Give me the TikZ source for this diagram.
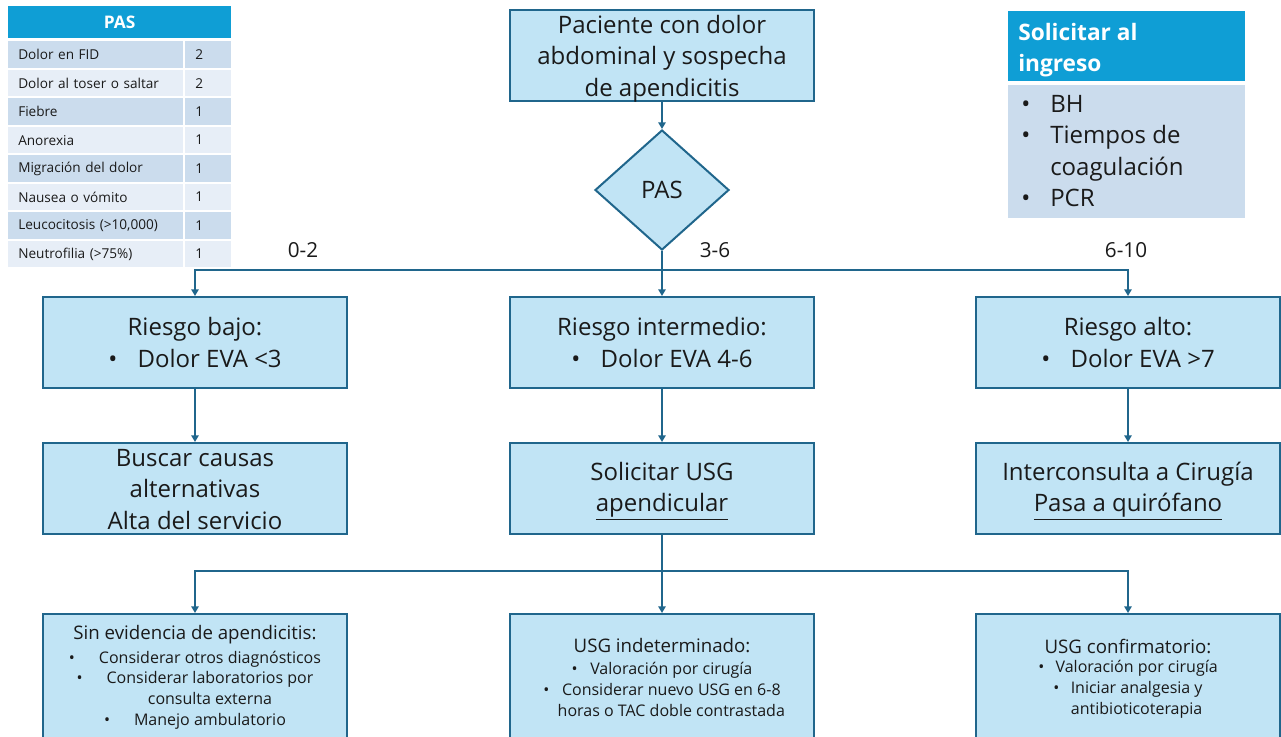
\documentclass[tikz,border=0pt]{standalone}
\usepackage{fontspec}
\setmainfont{Open Sans}
\usetikzlibrary{arrows.meta,shapes.geometric}
\definecolor{boxfill}{HTML}{C1E4F5}
\definecolor{edge}{HTML}{20668C}
\definecolor{hdr}{HTML}{0F9ED5}
\definecolor{rowA}{HTML}{CBDCED}
\definecolor{rowB}{HTML}{E7EEF7}
\definecolor{txt}{HTML}{1A1A1A}
\newcommand\fntMain{\fontsize{18}{23.5}\selectfont}
\newcommand\fntLbl{\fontsize{15.5}{19}\selectfont}
\newcommand\fntTab{\fontsize{10.2}{12}\selectfont}
\newcommand\fntTitle{\fontsize{14}{17}\selectfont}
\newcommand\fntItem{\fontsize{12}{15.6}\selectfont}
\tikzset{
  box/.style={draw=edge, line width=1.5pt, fill=boxfill, minimum width=228pt,
    minimum height=68.25pt, inner sep=0pt, align=center, font=\fntMain, text=txt},
  boxtext/.style={inner sep=0pt, align=center, font=\fntMain, text=txt},
  lowbox/.style={draw=edge, line width=1.5pt, fill=boxfill, minimum width=228pt,
    minimum height=112pt, inner sep=0pt, anchor=north},
  dia/.style={draw=edge, line width=1.5pt, fill=boxfill, diamond, aspect=1.117,
    minimum width=100.5pt, minimum height=90pt, inner sep=0pt, font=\fntMain, text=txt},
  conn/.style={draw=edge, line width=1.4pt, -{Triangle[length=5pt,width=5.5pt]}},
  plain/.style={draw=edge, line width=1.4pt},
  lbl/.style={font=\fntLbl, text=txt, inner sep=0pt},
  cellL/.style={anchor=north west, minimum width=131pt, minimum height=20pt,
    inner xsep=7.5pt, inner ysep=0pt, text width=116pt, align=left, font=\fntTab, text=txt},
  cellR/.style={anchor=north west, minimum width=34.5pt, minimum height=20pt,
    inner xsep=7.5pt, inner ysep=0pt, text width=19.5pt, align=left, font=\fntTab, text=txt},
  ttl/.style={font=\fntTitle, text=txt, inner sep=0pt, align=center},
  items/.style={font=\fntItem, text=txt, inner sep=0pt, align=center},
}
\begin{document}
\begin{tikzpicture}[x=0.75pt,y=-0.75pt]
\clip (0,0) rectangle (1281,736);
\fill[white] (0,0) rectangle (1281,736);

% PAS table
\node[fill=hdr, anchor=north west, minimum width=167pt, minimum height=24pt,
  inner sep=0pt, text=white, font=\fontsize{13}{15}\selectfont\bfseries] (tabhead) at (8,6) {PAS};
\node[cellL, fill=rowA] (c1) at (8,41) {Dolor en FID};
\node[cellR, fill=rowA] (v1) at (185,41) {2};
\node[cellL, fill=rowB] (c2) at (8,69.5) {Dolor al toser o saltar};
\node[cellR, fill=rowB] (v2) at (185,69.5) {2};
\node[cellL, fill=rowA] (c3) at (8,98) {Fiebre};
\node[cellR, fill=rowA] (v3) at (185,98) {1};
\node[cellL, fill=rowB] (c4) at (8,126.5) {Anorexia};
\node[cellR, fill=rowB] (v4) at (185,126.5) {1};
\node[cellL, fill=rowA] (c5) at (8,155) {Migración del dolor};
\node[cellR, fill=rowA] (v5) at (185,155) {1};
\node[cellL, fill=rowB] (c6) at (8,183.5) {Nausea o vómito};
\node[cellR, fill=rowB] (v6) at (185,183.5) {1};
\node[cellL, fill=rowA] (c7) at (8,212) {Leucocitosis (>10,000)};
\node[cellR, fill=rowA] (v7) at (185,212) {1};
\node[cellL, fill=rowB] (c8) at (8,240.5) {Neutrofilia (>75\%)};
\node[cellR, fill=rowB] (v8) at (185,240.5) {1};

% Solicitar al ingreso
\node[fill=hdr, anchor=north west, minimum width=177.75pt, minimum height=52.5pt,
  inner sep=0pt] (solh) at (1008,11) {};
\node[anchor=west, align=left, inner sep=0pt, text=white,
  font=\fontsize{17}{23.25}\selectfont\bfseries] (solht) at (1018,50.5) {Solicitar al\\ingreso};
\node[fill=rowA, anchor=north west, minimum width=177.75pt, minimum height=99.75pt,
  inner sep=0pt] (solb) at (1008,85) {};
\node[anchor=west, align=left, inner sep=0pt, text=txt, font=\fntMain] (solbt) at (1021,151)
  {\makebox[21.75pt][l]{•}BH\\
   \makebox[21.75pt][l]{•}Tiempos de\\
   \hspace*{21.75pt}coagulación\\
   \makebox[21.75pt][l]{•}PCR};

% main flow
\node[box] (start) at (662,55.5) {};
\node[boxtext] (startt) at (662,58.5) {Paciente con dolor\\abdominal y sospecha\\de apendicitis};
\node[dia] (pas) at (662,190) {PAS};

\node[lbl] (l02) at (303,250) {0-2};
\node[lbl] (l36) at (715,250) {3-6};
\node[lbl] (l610) at (1126,250) {6-10};

\node[box] (low) at (195,342.5) {Riesgo bajo:\\\makebox[22pt][l]{•}Dolor EVA <3};
\node[box] (mid) at (662,342.5) {Riesgo intermedio:\\\makebox[22pt][l]{•}Dolor EVA 4-6};
\node[box] (high) at (1128,342.5) {Riesgo alto:\\\makebox[22pt][l]{•}Dolor EVA >7};

\node[box] (lowr) at (195,488.5) {};
\node[boxtext] (lowrt) at (195,489.5) {Buscar causas\\alternativas\\Alta del servicio};
\node[box] (midr) at (662,488.5) {};
\node[boxtext] (midrt) at (662,491) {Solicitar USG\\\underline{apendicular}};
\node[box] (highr) at (1128,488.5) {};
\node[boxtext] (highrt) at (1128,491) {Interconsulta a Cirugía\\\underline{Pasa a quirófano}};

\node[lowbox] (b1) at (195,613) {};
\node[lowbox] (b2) at (662,613) {};
\node[lowbox] (b3) at (1128,613) {};

\node[ttl] (b1t) at (195,635) {Sin evidencia de apendicitis:};
\node[items] (b1i) at (195,690) {\makebox[22.5pt][l]{•}Considerar otros diagnósticos\\
  \makebox[22.5pt][l]{•}Considerar laboratorios por\\
  \hspace*{22.5pt}consulta externa\\
  \makebox[22.5pt][l]{•}Manejo ambulatorio};

\node[ttl] (b2t) at (662,646) {USG indeterminado:};
\node[items] (b2i) at (662,689.5) {\makebox[14pt][l]{•}Valoración por cirugía\\
  \makebox[14pt][l]{•}Considerar nuevo USG en 6-8\\
  \hspace*{14pt}horas o TAC doble contrastada};

\node[ttl] (b3t) at (1128,646) {USG confirmatorio:};
\node[items] (b3i) at (1128,689.5) {\makebox[13pt][l]{•}Valoración por cirugía\\
  \makebox[13pt][l]{•}Iniciar analgesia y\\
  \hspace*{13pt}antibioticoterapia};

% connectors
\coordinate (j1) at (662,270);
\coordinate (j2) at (662,571);
\draw[conn] (start) -- (pas);
\draw[plain] (pas.south) -- (j1);
\draw[conn] (j1) -- (mid);
\draw[conn] (j1) -| (low);
\draw[conn] (j1) -| (high);
\draw[conn] (low) -- (lowr);
\draw[conn] (mid) -- (midr);
\draw[conn] (high) -- (highr);
\draw[plain] (midr.south) -- (j2);
\draw[conn] (j2) -- (b2);
\draw[conn] (j2) -| (b1);
\draw[conn] (j2) -| (b3);
\end{tikzpicture}
\end{document}
